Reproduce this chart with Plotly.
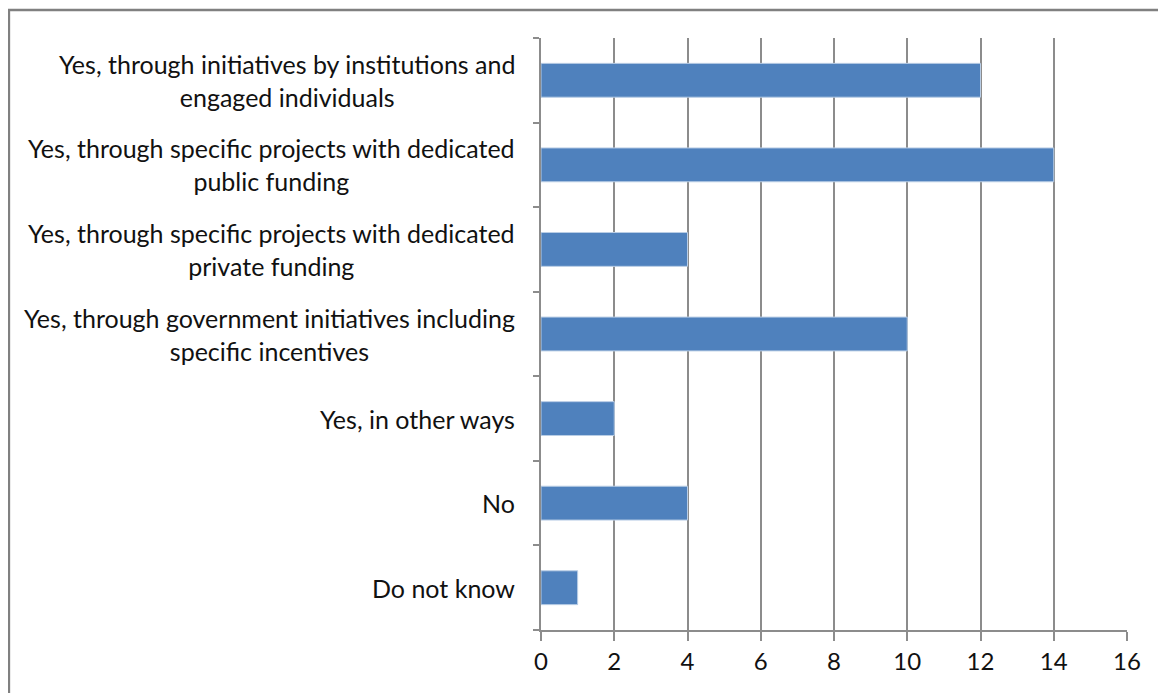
import plotly.graph_objects as go

categories = [
    "Yes, through initiatives by institutions and<br>engaged individuals",
    "Yes, through specific projects with dedicated<br>public funding",
    "Yes, through specific projects with dedicated<br>private funding",
    "Yes, through government initiatives including<br>specific incentives",
    "Yes, in other ways",
    "No",
    "Do not know",
]
values = [12, 14, 4, 10, 2, 4, 1]
x_ticks = [0, 2, 4, 6, 8, 10, 12, 14, 16]

FONT = "Lato"
GRID = "#8c8c8c"
TEXT = "#111111"

fig = go.Figure()
fig.add_trace(go.Bar(
    x=values, y=categories, orientation="h",
    marker=dict(color="#4F81BD", line=dict(color="#b9cde5", width=1)),
    hoverinfo="skip",
))

for c in categories:
    fig.add_annotation(
        x=-0.041, xref="paper", y=c, yref="y", text=c,
        xanchor="right", yanchor="middle", align="center",
        showarrow=False, font=dict(family=FONT, size=25, color=TEXT),
    )

fig.update_layout(
    width=1158, height=685,
    margin=dict(l=533, r=39, t=30, b=63),
    paper_bgcolor="white", plot_bgcolor="white",
    bargap=0.6, showlegend=False,
    xaxis=dict(
        range=[0, 16], tickvals=x_ticks, ticktext=[str(v) for v in x_ticks],
        showgrid=True, gridcolor=GRID, gridwidth=1.5,
        showline=True, linecolor=GRID, linewidth=1.5,
        ticks="outside", ticklen=9, tickcolor=GRID, tickwidth=1.5,
        tickfont=dict(family=FONT, size=24, color=TEXT),
        zeroline=False, fixedrange=True,
    ),
    yaxis=dict(
        categoryorder="array", categoryarray=categories[::-1],
        showticklabels=False,
        showline=True, linecolor=GRID, linewidth=1.5,
        ticks="outside", ticklen=6, tickcolor=GRID, tickwidth=1.5,
        tickson="boundaries", showgrid=False, fixedrange=True,
    ),
    shapes=[dict(
        type="rect", xref="paper", yref="paper",
        x0=-0.908, x1=1.2, y0=-0.3, y1=1.0473,
        line=dict(color="#808080", width=2.5), layer="above",
    )],
)

fig.write_html("out.html")
